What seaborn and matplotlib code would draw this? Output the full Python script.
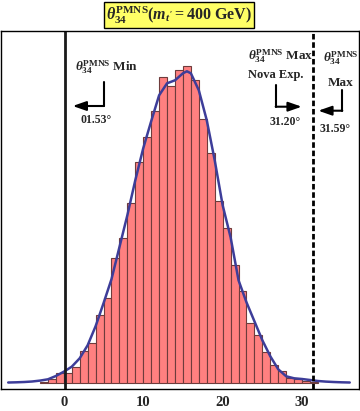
import numpy as np
import pandas as pd
import matplotlib.pyplot as plt
import seaborn as sns

# histogram bins (left edge, width 1) and their heights
bin_left = list(range(-3, 32))
bar_height = [1.5, 4.5, 10, 10, 16, 32, 40, 68, 85, 125, 145, 180, 221, 246,
              272, 306, 297, 313, 317, 303, 264, 230, 182, 155, 118, 92, 60,
              48, 31, 18, 12, 5, 4, 2.3, 1]

# smooth curve
curve_x = [-7, -6, -5, -4, -3, -2, -1, 0, 1, 2, 3, 4, 5, 6, 7, 8, 9, 10, 11,
           12, 13, 14, 15, 15.5, 16, 17, 18, 19, 20, 21, 22, 23, 24, 25, 26,
           27, 28, 29, 30, 31, 32, 33, 34, 35, 36]
curve_y = [0.8, 1.0, 1.3, 1.8, 2.7, 4, 7.3, 11.6, 16.6, 25, 38, 57, 80, 104,
           136, 168, 203, 235, 262, 288, 300, 303, 310, 312, 310, 293, 263,
           223, 178, 146, 103, 81, 62, 43, 27, 14, 7, 5, 4.3, 3.3, 2.3, 1.7,
           1.3, 1.0, 0.8]

min_line = 0.2
max_line = 31.4
xticks_major = [0, 10, 20, 30]

sns.set_style("white")
plt.rcParams["font.family"] = ["Liberation Serif", "DejaVu Serif"]
plt.rcParams["font.weight"] = "bold"
plt.rcParams["mathtext.fontset"] = "custom"
plt.rcParams["mathtext.rm"] = "Liberation Serif:bold"
plt.rcParams["mathtext.it"] = "Liberation Serif:italic:bold"
plt.rcParams["mathtext.bf"] = "Liberation Serif:bold"

df = pd.DataFrame({"x": np.array(bin_left) + 0.5, "h": bar_height})
edges = list(bin_left) + [bin_left[-1] + 1]

fig = plt.figure(figsize=(3.6, 4.11), dpi=100)
ax = fig.add_axes([0.002, 0.0535, 0.996, 0.8711])

sns.histplot(data=df, x="x", weights="h", bins=edges, color="#ff8080",
             edgecolor="#6e3c3c", linewidth=0.8, alpha=1, ax=ax)
sns.lineplot(x=curve_x, y=curve_y, color="#3d3d99", lw=1.8, ax=ax)

ax.axvline(min_line, color="#1a1a1a", lw=2.0)
ax.axvline(max_line, color="black", lw=2.0, ls=(0, (2, 1)))

ax.set_xlim(-7.94, 37.2)
ax.set_ylim(-5.7, 352.3)
ax.set_xlabel("")
ax.set_ylabel("")
ax.set_yticks([])
ax.set_xticks(xticks_major)
ax.set_xticks(np.arange(-6, 37, 2), minor=True)
ax.tick_params(axis="x", which="major", direction="in", length=3.5, width=0.8,
               labelsize=10.5, pad=5)
ax.tick_params(axis="x", which="minor", direction="in", length=2, width=0.6)
for lab in ax.get_xticklabels():
    lab.set_fontweight("bold")
for s in ax.spines.values():
    s.set_color("black")
    s.set_linewidth(1.0)


def P(px, py):
    return (px / 360, 1 - py / 411)


th = r"$\theta_{34}^{\mathrm{PMNS}}$"

fig.text(*P(179, 15), th[:-1] + r"(m_{t^{\prime}} = 400\ \mathrm{GeV})$",
         ha="center", va="center", fontsize=11.5,
         bbox=dict(boxstyle="square,pad=0.15", fc="#ffff66", ec="black", lw=1))

fig.text(*P(75, 71), th + " Min", ha="left", va="baseline", fontsize=9.5)
fig.text(*P(96, 123), "01.53°", ha="center", va="baseline", fontsize=8.5)

fig.text(*P(248, 60), th + " Max", ha="left", va="baseline", fontsize=9.5)
fig.text(*P(276, 78), "Nova Exp.", ha="center", va="baseline", fontsize=9)
fig.text(*P(285, 125), "31.20°", ha="center", va="baseline", fontsize=8.5)

fig.text(*P(341, 62), th, ha="center", va="baseline", fontsize=9.5)
fig.text(*P(340.5, 86), "Max", ha="center", va="baseline", fontsize=9.5)
fig.text(*P(335, 131.5), "31.59°", ha="center", va="baseline", fontsize=8.5)

arrow_kw = dict(arrowstyle="-|>,head_length=0.8,head_width=0.28", color="black",
                lw=1.5, shrinkA=0, shrinkB=0)
legs = [((104, 82), (104, 106), (72.7, 106)),
        ((275.7, 85), (275.7, 106.7), (301.7, 106.7)),
        ((342.3, 90), (342.3, 110.7), (318.3, 110.7))]
for a, b, c in legs:
    fig.add_artist(plt.Line2D([P(*a)[0], P(*b)[0]], [P(*a)[1], P(*b)[1]],
                              color="black", lw=1.5, transform=fig.transFigure))
    ax.annotate("", xy=P(*c), xytext=P(*b), xycoords="figure fraction",
                textcoords="figure fraction", arrowprops=arrow_kw)

plt.savefig("out.png", dpi=100)
plt.close()
